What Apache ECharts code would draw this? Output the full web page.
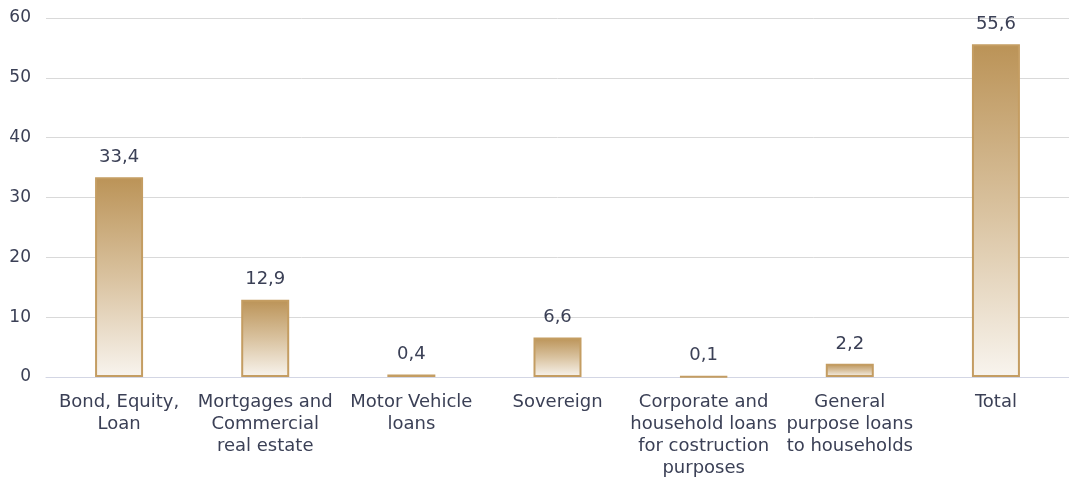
<!DOCTYPE html>
<html>
<head>
<meta charset="utf-8">
<script src="https://cdn.jsdelivr.net/npm/echarts@6/dist/echarts.min.js"></script>
<style>
  html, body { margin: 0; padding: 0; background: #ffffff; }
  #chart { width: 1069px; height: 479px; }
</style>
</head>
<body>
<div id="chart"></div>
<script>
// Exposure by asset class (EUR bn)
const categories = [
  'Bond, Equity,\nLoan',
  'Mortgages and\nCommercial\nreal estate',
  'Motor Vehicle\nloans',
  'Sovereign',
  'Corporate and\nhousehold loans\nfor costruction\npurposes',
  'General\npurpose loans\nto households',
  'Total'
];
const values = [33.4, 12.9, 0.4, 6.6, 0.1, 2.2, 55.6];
const yTicks = [0, 10, 20, 30, 40, 50, 60];

const textColor = '#3b4056';
const fontFamily = '"Century Gothic", "DejaVu Sans", sans-serif';

const chart = echarts.init(document.getElementById('chart'), null, { renderer: 'canvas' });

chart.setOption({
  animation: false,
  grid: { left: 46, right: -2, top: 18, bottom: 100, containLabel: false },
  xAxis: {
    type: 'category',
    data: categories,
    axisLine: { show: true, lineStyle: { color: '#d3d6e4', width: 1 } },
    axisTick: { show: false },
    axisLabel: {
      interval: 0,
      color: textColor,
      fontFamily: fontFamily,
      fontSize: 18,
      lineHeight: 22,
      margin: 14
    }
  },
  yAxis: {
    type: 'value',
    min: yTicks[0],
    max: yTicks[yTicks.length - 1],
    interval: 10,
    axisLine: { show: false },
    axisTick: { show: false },
    splitLine: { lineStyle: { color: '#d9d9d9', width: 1 } },
    axisLabel: {
      color: textColor,
      fontFamily: fontFamily,
      fontSize: 17,
      margin: 15
    }
  },
  series: [{
    type: 'bar',
    data: values,
    barWidth: 48,
    itemStyle: {
      color: new echarts.graphic.LinearGradient(0, 0, 0, 1, [
        { offset: 0, color: '#bb9357' },
        { offset: 0.5, color: '#d9c29f' },
        { offset: 1, color: '#f8f4ee' }
      ]),
      borderColor: '#c49d62',
      borderWidth: 2
    },
    label: {
      show: true,
      position: 'top',
      distance: 11,
      color: textColor,
      fontFamily: fontFamily,
      fontSize: 18,
      formatter: p => p.value.toFixed(1).replace('.', ',')
    }
  }]
});
</script>
</body>
</html>
